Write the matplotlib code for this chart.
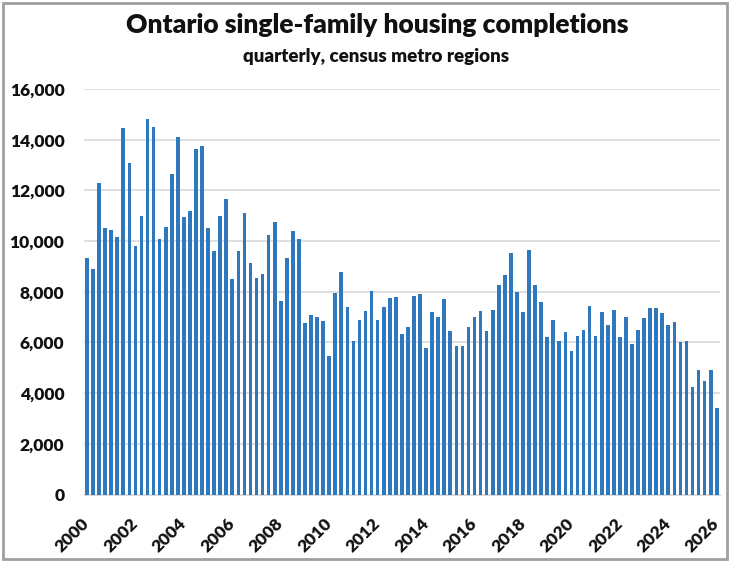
import matplotlib
matplotlib.use("Agg")
import matplotlib.pyplot as plt
from matplotlib.patches import Rectangle

# Quarterly completions, 2000 Q1 through 2026 Q1
years = list(range(2000, 2027))
completions = [
    9350, 8900, 12300, 10500,      # 2000
    10450, 10150, 14450, 13100,    # 2001
    9800, 11000, 14800, 14500,     # 2002
    10100, 10550, 12650, 14100,    # 2003
    10950, 11200, 13650, 13750,    # 2004
    10500, 9600, 11000, 11650,     # 2005
    8500, 9600, 11100, 9150,       # 2006
    8550, 8700, 10250, 10750,      # 2007
    7650, 9350, 10400, 10100,      # 2008
    6750, 7100, 7000, 6850,        # 2009
    5450, 7950, 8800, 7400,        # 2010
    6050, 6900, 7250, 8050,        # 2011
    6900, 7400, 7750, 7800,        # 2012
    6350, 6600, 7850, 7900,        # 2013
    5800, 7200, 7000, 7700,        # 2014
    6450, 5850, 5850, 6600,        # 2015
    7000, 7250, 6450, 7300,        # 2016
    8250, 8650, 9550, 8000,        # 2017
    7200, 9650, 8250, 7600,        # 2018
    6200, 6900, 6050, 6400,        # 2019
    5650, 6250, 6500, 7450,        # 2020
    6250, 7200, 6700, 7300,        # 2021
    6200, 7000, 5950, 6500,        # 2022
    6950, 7350, 7350, 7150,        # 2023
    6700, 6800, 6000, 6050,        # 2024
    4250, 4900, 4500, 4900,        # 2025
    3400,                          # 2026
]
y_ticks = [0, 2000, 4000, 6000, 8000, 10000, 12000, 14000, 16000]
tick_labels = [str(y) for y in years[::2]]

title = "Ontario single-family housing completions"
subtitle = "quarterly, census metro regions"

plt.rcParams["font.family"] = ["Lato", "DejaVu Sans"]

fig = plt.figure(figsize=(7.30, 5.62), dpi=100)
ax = fig.add_axes([0.115, 0.120, 0.871, 0.7216])

x = list(range(len(completions)))
ax.bar(x, completions, width=0.6, color="#2E78BE", zorder=3)

ax.set_xlim(-0.5, len(completions) - 0.5)
ax.set_ylim(0, 16000)
ax.set_yticks(y_ticks)
ax.set_yticklabels([f"{v:,}" for v in y_ticks], fontsize=12.5,
                   fontweight="heavy", color="#111111")
ax.yaxis.grid(True, color="#D9D9D9", linewidth=1.2, zorder=0)

ax.set_xticks(x[::8])
ax.set_xticklabels(tick_labels, rotation=45, ha="right", va="center",
                   rotation_mode="anchor", fontsize=12.5, fontweight="heavy",
                   color="#111111")
ax.tick_params(axis="x", length=0, pad=19)
ax.tick_params(axis="y", length=0, pad=14)

for side in ("top", "right", "left"):
    ax.spines[side].set_visible(False)
ax.spines["bottom"].set_color("#D9D9D9")

fig.text(0.517, 0.955, title, ha="center", va="center", fontsize=19,
         fontweight="heavy", color="#111111")
fig.text(0.515, 0.900, subtitle, ha="center", va="center", fontsize=13.5,
         fontweight="heavy", color="#111111")

fig.patches.append(Rectangle((0.004, 0.005), 0.992, 0.99, transform=fig.transFigure,
                             fill=False, edgecolor="#A0A0A0", linewidth=2))

fig.savefig("out.png", dpi=100)
